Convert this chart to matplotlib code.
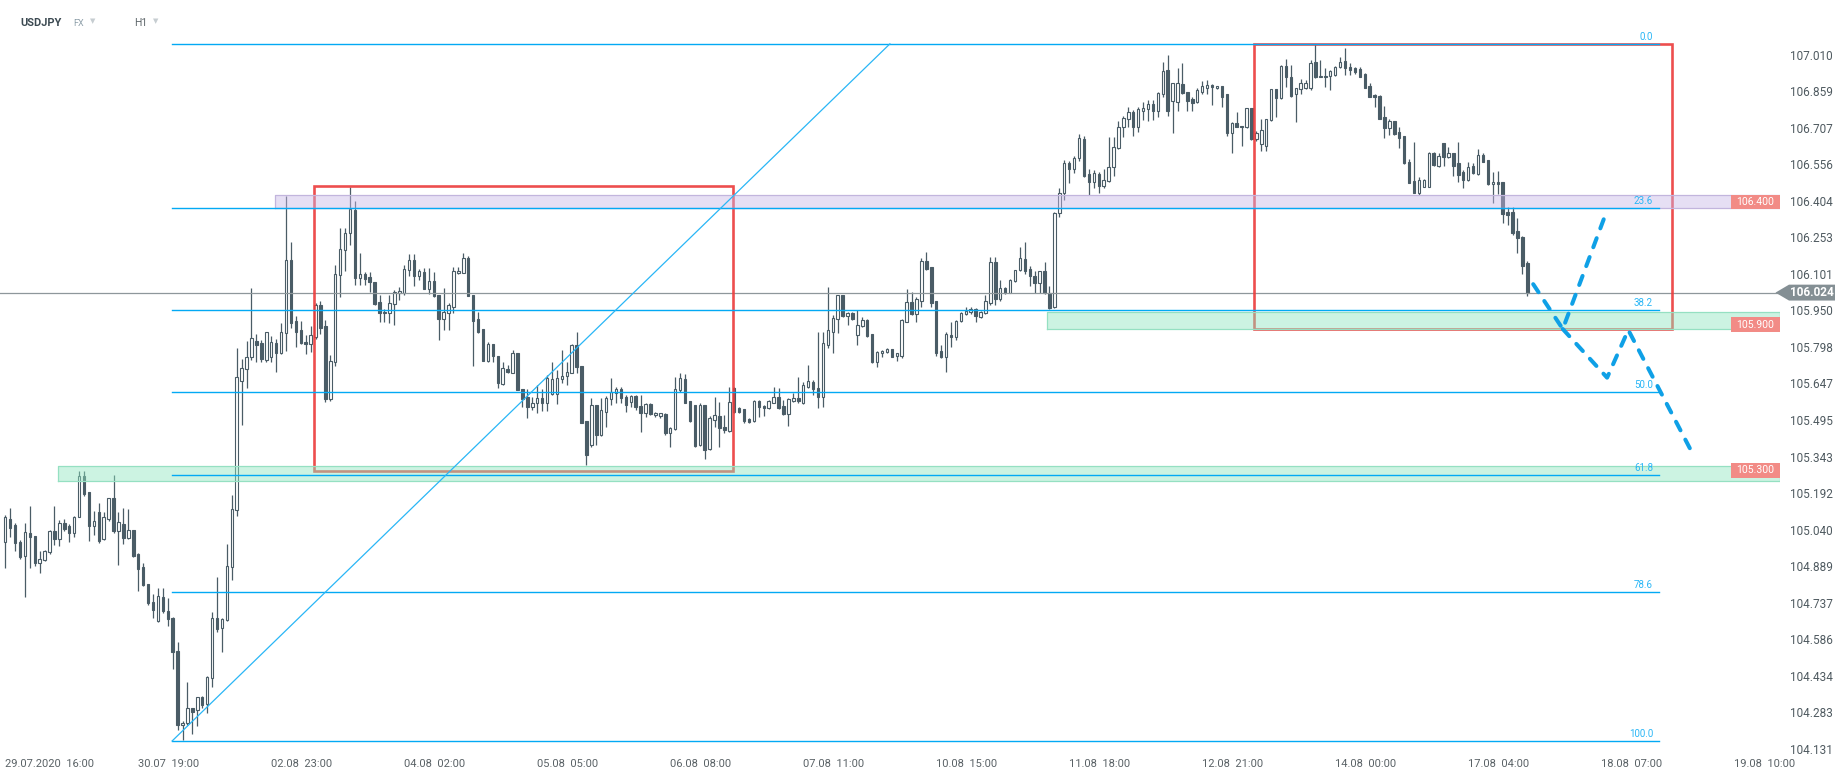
import matplotlib
matplotlib.use('Agg')
import matplotlib.pyplot as plt
import matplotlib.transforms as mtransforms
from matplotlib.patches import Rectangle, Polygon
import numpy as np

plt.rcParams['font.family'] = ['Roboto', 'DejaVu Sans']

# ---- USDJPY H1 candles ----
opens = [
    104.988, 105.085, 105.058, 104.988, 104.932, 105.026, 105.015, 104.901, 104.915, 104.947,
    105.036, 105.001, 105.067, 105.054, 105.026, 105.092, 105.265, 105.196, 105.054, 105.112,
    105.001, 105.084, 105.171, 105.036, 105.063, 105.005, 105.040, 104.940, 104.885, 104.816,
    104.742, 104.662, 104.763, 104.705, 104.673, 104.538, 104.228, 104.238, 104.300, 104.293,
    104.346, 104.316, 104.424, 104.673, 104.632, 104.666, 104.885, 105.123, 105.659, 105.706,
    105.756, 105.825, 105.814, 105.745, 105.758, 105.814, 105.775, 105.858, 106.160, 105.906,
    105.869, 105.821, 105.810, 105.841, 105.973, 105.886, 105.581, 105.735, 106.095, 106.201,
    106.270, 106.367, 106.086, 106.100, 106.088, 106.067, 105.984, 105.938, 105.938, 105.977,
    106.021, 106.024, 106.118, 106.160, 106.091, 106.109, 106.038, 106.073, 106.012, 105.914,
    105.938, 105.966, 106.104, 106.107, 106.167, 106.014, 105.915, 105.872, 105.742, 105.811,
    105.759, 105.644, 105.707, 105.692, 105.775, 105.624, 105.590, 105.551, 105.568, 105.586,
    105.565, 105.604, 105.604, 105.665, 105.676, 105.692, 105.807, 105.720, 105.492, 105.392,
    105.558, 105.434, 105.528, 105.582, 105.607, 105.623, 105.590, 105.572, 105.595, 105.555,
    105.523, 105.561, 105.516, 105.512, 105.521, 105.440, 105.457, 105.620, 105.664, 105.576,
    105.558, 105.392, 105.558, 105.374, 105.496, 105.512, 105.468, 105.451, 105.627, 105.544,
    105.540, 105.500, 105.493, 105.574, 105.554, 105.544, 105.567, 105.590, 105.554, 105.521,
    105.576, 105.585, 105.565, 105.631, 105.655, 105.627, 105.590, 105.807, 105.862, 105.913,
    106.014, 105.927, 105.938, 105.848, 105.887, 105.910, 105.852, 105.738, 105.772, 105.776,
    105.789, 105.762, 105.762, 105.904, 105.984, 105.935, 105.991, 106.155, 106.129, 105.991,
    105.782, 105.758, 105.848, 105.841, 105.908, 105.935, 105.945, 105.955, 105.921, 105.938,
    105.982, 106.150, 105.996, 106.045, 106.024, 106.072, 106.118, 106.162, 106.121, 106.093,
    106.063, 106.115, 106.021, 105.963, 106.353, 106.436, 106.561, 106.536, 106.582, 106.661,
    106.516, 106.484, 106.516, 106.468, 106.487, 106.544, 106.625, 106.710, 106.743, 106.772,
    106.712, 106.779, 106.784, 106.805, 106.779, 106.848, 106.948, 106.819, 106.816, 106.890,
    106.858, 106.827, 106.813, 106.858, 106.874, 106.884, 106.872, 106.881, 106.848, 106.688,
    106.726, 106.717, 106.710, 106.789, 106.660, 106.639, 106.632, 106.740, 106.867, 106.830,
    106.964, 106.920, 106.848, 106.867, 106.872, 106.872, 106.979, 106.917, 106.924, 106.924,
    106.927, 106.959, 106.985, 106.961, 106.955, 106.952, 106.931, 106.881, 106.844, 106.840,
    106.754, 106.708, 106.736, 106.689, 106.674, 106.567, 106.487, 106.436, 106.464, 106.464,
    106.605, 106.551, 106.643, 106.585, 106.602, 106.560, 106.526, 106.491, 106.549, 106.516,
    106.595, 106.575, 106.473, 106.482, 106.482, 106.357, 106.357, 106.280, 106.256, 106.146,
]
highs = [
    105.102, 105.130, 105.070, 104.998, 105.070, 105.139, 105.015, 104.950, 104.957, 105.040,
    105.139, 105.081, 105.085, 105.063, 105.098, 105.282, 105.282, 105.196, 105.116, 105.150,
    105.112, 105.171, 105.268, 105.112, 105.130, 105.127, 105.040, 104.943, 104.901, 104.816,
    104.774, 104.798, 104.798, 104.756, 104.680, 104.574, 104.245, 104.408, 104.300, 104.346,
    104.352, 104.434, 104.698, 104.846, 104.673, 104.982, 105.185, 105.793, 105.747, 105.823,
    106.042, 105.851, 105.828, 105.862, 105.844, 105.832, 105.897, 106.425, 106.236, 105.925,
    105.906, 105.848, 105.887, 105.980, 105.991, 105.911, 105.766, 106.139, 106.291, 106.291,
    106.464, 106.402, 106.187, 106.111, 106.111, 106.070, 106.014, 105.955, 106.014, 106.035,
    106.049, 106.139, 106.183, 106.183, 106.122, 106.128, 106.128, 106.109, 106.012, 106.042,
    105.980, 106.132, 106.132, 106.190, 106.176, 106.014, 105.943, 105.872, 105.821, 105.811,
    105.759, 105.738, 105.724, 105.786, 105.775, 105.624, 105.624, 105.590, 105.641, 105.623,
    105.683, 105.738, 105.703, 105.786, 105.738, 105.811, 105.862, 105.720, 105.492, 105.586,
    105.558, 105.586, 105.593, 105.669, 105.634, 105.634, 105.599, 105.599, 105.599, 105.599,
    105.565, 105.565, 105.530, 105.526, 105.523, 105.468, 105.675, 105.689, 105.685, 105.576,
    105.558, 105.565, 105.558, 105.512, 105.592, 105.572, 105.516, 105.634, 105.634, 105.551,
    105.540, 105.502, 105.579, 105.579, 105.558, 105.579, 105.631, 105.627, 105.579, 105.585,
    105.609, 105.675, 105.655, 105.724, 105.662, 105.862, 105.862, 106.046, 105.931, 106.014,
    106.014, 105.945, 105.945, 105.952, 105.924, 105.913, 105.852, 105.783, 105.786, 105.793,
    105.791, 105.775, 105.913, 106.038, 106.028, 106.004, 106.166, 106.191, 106.129, 105.991,
    105.807, 105.862, 105.904, 105.910, 105.945, 105.963, 105.963, 105.959, 105.949, 106.014,
    106.173, 106.173, 106.076, 106.049, 106.080, 106.118, 106.215, 106.233, 106.136, 106.115,
    106.115, 106.152, 106.051, 106.360, 106.457, 106.575, 106.571, 106.589, 106.683, 106.674,
    106.537, 106.533, 106.526, 106.537, 106.668, 106.671, 106.736, 106.758, 106.793, 106.782,
    106.793, 106.816, 106.823, 106.823, 106.858, 106.982, 107.010, 106.892, 106.957, 106.975,
    106.858, 106.834, 106.872, 106.903, 106.906, 106.888, 106.883, 106.881, 106.848, 106.733,
    106.772, 106.717, 106.789, 106.789, 106.695, 106.744, 106.744, 106.869, 106.869, 106.968,
    106.992, 106.968, 106.872, 106.910, 106.906, 106.989, 107.054, 106.989, 106.955, 106.948,
    106.966, 107.003, 107.037, 106.975, 106.961, 106.959, 106.934, 106.895, 106.848, 106.844,
    106.798, 106.743, 106.736, 106.710, 106.674, 106.577, 106.649, 106.502, 106.494, 106.609,
    106.609, 106.605, 106.646, 106.630, 106.605, 106.650, 106.533, 106.567, 106.560, 106.620,
    106.602, 106.575, 106.526, 106.529, 106.482, 106.381, 106.381, 106.332, 106.259, 106.155,
]
lows = [
    104.881, 105.012, 104.950, 104.918, 104.760, 104.881, 104.888, 104.860, 104.912, 104.939,
    104.975, 104.971, 105.033, 104.991, 105.009, 105.092, 105.182, 104.995, 105.019, 104.984,
    104.998, 105.078, 105.026, 104.892, 104.982, 105.001, 104.929, 104.788, 104.807, 104.729,
    104.673, 104.659, 104.694, 104.639, 104.462, 104.210, 104.169, 104.231, 104.192, 104.224,
    104.300, 104.279, 104.387, 104.614, 104.532, 104.663, 104.830, 105.099, 105.475, 105.630,
    105.745, 105.738, 105.735, 105.738, 105.735, 105.696, 105.770, 105.782, 105.876, 105.800,
    105.810, 105.768, 105.779, 105.830, 105.851, 105.572, 105.576, 105.721, 106.005, 106.115,
    106.222, 106.056, 106.056, 106.056, 106.028, 105.973, 105.901, 105.901, 105.897, 105.890,
    105.994, 106.014, 106.093, 106.052, 106.077, 106.038, 106.019, 106.005, 105.828, 105.869,
    105.869, 105.941, 106.102, 106.107, 106.008, 105.720, 105.858, 105.741, 105.738, 105.738,
    105.627, 105.641, 105.692, 105.690, 105.618, 105.551, 105.503, 105.535, 105.524, 105.531,
    105.531, 105.600, 105.562, 105.648, 105.641, 105.692, 105.692, 105.485, 105.310, 105.385,
    105.392, 105.427, 105.468, 105.558, 105.565, 105.565, 105.530, 105.551, 105.537, 105.447,
    105.509, 105.516, 105.509, 105.502, 105.433, 105.382, 105.454, 105.613, 105.565, 105.489,
    105.385, 105.388, 105.332, 105.371, 105.468, 105.385, 105.443, 105.447, 105.523, 105.526,
    105.485, 105.482, 105.489, 105.509, 105.512, 105.540, 105.565, 105.540, 105.516, 105.471,
    105.572, 105.565, 105.562, 105.627, 105.599, 105.544, 105.551, 105.793, 105.772, 105.855,
    105.924, 105.890, 105.910, 105.807, 105.883, 105.841, 105.733, 105.714, 105.758, 105.772,
    105.756, 105.742, 105.751, 105.901, 105.931, 105.904, 105.963, 106.118, 105.966, 105.761,
    105.751, 105.696, 105.797, 105.827, 105.901, 105.931, 105.935, 105.901, 105.917, 105.935,
    105.973, 105.973, 105.991, 106.018, 106.021, 106.069, 106.115, 106.101, 106.051, 106.021,
    106.021, 106.018, 105.955, 105.959, 106.337, 106.409, 106.478, 106.522, 106.572, 106.505,
    106.429, 106.457, 106.439, 106.457, 106.484, 106.509, 106.620, 106.671, 106.710, 106.675,
    106.689, 106.740, 106.737, 106.740, 106.751, 106.837, 106.757, 106.688, 106.779, 106.848,
    106.779, 106.779, 106.809, 106.847, 106.847, 106.802, 106.867, 106.793, 106.674, 106.605,
    106.710, 106.632, 106.706, 106.657, 106.655, 106.613, 106.613, 106.737, 106.754, 106.827,
    106.878, 106.837, 106.733, 106.848, 106.869, 106.865, 106.913, 106.917, 106.878, 106.865,
    106.923, 106.955, 106.927, 106.927, 106.930, 106.917, 106.872, 106.834, 106.795, 106.743,
    106.664, 106.678, 106.678, 106.623, 106.558, 106.477, 106.436, 106.429, 106.461, 106.461,
    106.551, 106.547, 106.551, 106.581, 106.508, 106.484, 106.457, 106.488, 106.516, 106.512,
    106.565, 106.470, 106.397, 106.433, 106.312, 106.305, 106.263, 106.187, 106.102, 106.008,
]
closes = [
    105.092, 105.047, 104.984, 104.926, 105.030, 105.009, 104.901, 104.918, 104.953, 105.036,
    105.001, 105.067, 105.044, 105.026, 105.092, 105.265, 105.189, 105.054, 105.077, 104.995,
    105.092, 105.171, 105.033, 105.071, 105.005, 105.037, 104.933, 104.877, 104.811, 104.738,
    104.708, 104.766, 104.704, 104.670, 104.532, 104.228, 104.240, 104.300, 104.286, 104.346,
    104.311, 104.428, 104.673, 104.629, 104.670, 104.888, 105.125, 105.672, 105.710, 105.758,
    105.835, 105.807, 105.749, 105.862, 105.817, 105.772, 105.862, 106.160, 105.899, 105.862,
    105.814, 105.810, 105.848, 105.973, 105.879, 105.581, 105.741, 106.100, 106.205, 106.270,
    106.370, 106.084, 106.100, 106.081, 106.067, 105.977, 105.938, 105.945, 105.980, 106.026,
    106.031, 106.122, 106.160, 106.091, 106.114, 106.038, 106.073, 106.008, 105.914, 105.943,
    105.973, 106.114, 106.114, 106.167, 106.008, 105.908, 105.862, 105.742, 105.810, 105.759,
    105.648, 105.710, 105.696, 105.775, 105.620, 105.582, 105.551, 105.565, 105.586, 105.565,
    105.669, 105.665, 105.669, 105.676, 105.694, 105.807, 105.717, 105.485, 105.350, 105.558,
    105.434, 105.535, 105.586, 105.613, 105.623, 105.586, 105.558, 105.595, 105.551, 105.523,
    105.561, 105.521, 105.526, 105.523, 105.443, 105.461, 105.623, 105.668, 105.567, 105.493,
    105.388, 105.558, 105.371, 105.502, 105.516, 105.461, 105.454, 105.572, 105.530, 105.530,
    105.493, 105.489, 105.574, 105.551, 105.544, 105.574, 105.590, 105.544, 105.521, 105.581,
    105.585, 105.574, 105.641, 105.657, 105.623, 105.592, 105.814, 105.869, 105.920, 106.014,
    105.927, 105.938, 105.913, 105.890, 105.910, 105.844, 105.738, 105.779, 105.782, 105.789,
    105.758, 105.772, 105.910, 105.984, 105.935, 105.996, 106.155, 106.121, 105.980, 105.775,
    105.758, 105.852, 105.838, 105.908, 105.938, 105.949, 105.955, 105.927, 105.945, 105.991,
    106.150, 105.996, 106.045, 106.024, 106.076, 106.118, 106.166, 106.114, 106.093, 106.065,
    106.115, 106.021, 105.959, 106.356, 106.436, 106.561, 106.536, 106.582, 106.665, 106.509,
    106.482, 106.519, 106.468, 106.491, 106.544, 106.630, 106.712, 106.747, 106.772, 106.710,
    106.786, 106.789, 106.805, 106.779, 106.851, 106.945, 106.779, 106.892, 106.895, 106.851,
    106.820, 106.809, 106.865, 106.881, 106.884, 106.876, 106.881, 106.837, 106.688, 106.726,
    106.712, 106.710, 106.789, 106.660, 106.688, 106.699, 106.743, 106.867, 106.830, 106.964,
    106.917, 106.841, 106.872, 106.892, 106.892, 106.978, 106.917, 106.924, 106.917, 106.943,
    106.961, 106.982, 106.955, 106.948, 106.941, 106.920, 106.874, 106.837, 106.834, 106.744,
    106.708, 106.736, 106.682, 106.667, 106.563, 106.480, 106.436, 106.491, 106.491, 106.605,
    106.553, 106.591, 106.588, 106.602, 106.551, 106.512, 106.491, 106.547, 106.519, 106.595,
    106.567, 106.473, 106.482, 106.473, 106.350, 106.344, 106.270, 106.250, 106.136, 106.024,
]

time_labels = ['29.07.2020  16:00', '30.07  19:00', '02.08  23:00', '04.08  02:00',
               '05.08  05:00', '06.08  08:00', '07.08  11:00', '10.08  15:00',
               '11.08  18:00', '12.08  21:00', '14.08  00:00', '17.08  04:00',
               '18.08  07:00', '19.08  10:00']
label_idx = list(range(0, 27 * len(time_labels), 27))   # one label every 27 bars

price_ticks = [107.010, 106.859, 106.707, 106.556, 106.404, 106.253, 106.101, 105.950,
               105.798, 105.647, 105.495, 105.343, 105.192, 105.040, 104.889, 104.737,
               104.586, 104.434, 104.283, 104.131]
last_price = 106.024

# fibonacci retracement (low -> high)
fib_low, fib_high = 104.164, 107.056
fib_x0, fib_x1 = 33.9, 335.7
fib_ratios = [0.0, 23.6, 38.2, 50.0, 61.8, 78.6, 100.0]
trend_x = [33.9, 179.6]
trend_y = [104.164, 107.056]

# support / resistance zones: (start bar, bottom, top, label)
zones = [(54.8, 106.374, 106.429, '106.400', '#c9b8e8'),
         (211.5, 105.872, 105.943, '105.900', '#8ee6c0'),
         (10.7, 105.243, 105.305, '105.300', '#8ee6c0')]
zone_label_y = [106.400, 105.891, 105.286]

# red boxes: (x0, x1, y0, y1)
boxes = [(62.7, 147.7, 105.284, 106.467),
         (253.5, 338.4, 105.873, 107.056)]

# projected path (dashed)
proj_a_x = [310.2, 316.2, 324.6]
proj_a_y = [106.059, 105.873, 106.333]
proj_b_x = [316.2, 325.2, 329.5, 342.0]
proj_b_y = [105.873, 105.671, 105.869, 105.378]

W, H = 1847, 780
fig = plt.figure(figsize=(W / 100, H / 100), dpi=100)
ax = fig.add_axes([0, (H - 752) / H, 1780 / W, 752 / H])
xmin, xmax = -1.056, 360.3
ax.set_xlim(xmin, xmax)
ax.set_ylim(104.118, 107.238)

o = np.array(opens); hi = np.array(highs); lo = np.array(lows); c = np.array(closes)
idx = np.arange(len(c))
up = c >= o
cc = '#4a5c66'
ax.vlines(idx, lo, hi, color=cc, lw=0.9, zorder=2)
ax.bar(idx[up], (c - o)[up], bottom=o[up], width=0.5, facecolor='white',
       edgecolor=cc, linewidth=0.8, zorder=3)
ax.bar(idx[~up], (o - c)[~up], bottom=c[~up], width=0.5, facecolor=cc,
       edgecolor=cc, linewidth=0.8, zorder=3)

# current price line
ax.axhline(last_price, color='#8e979b', lw=0.9, zorder=4)

# red rectangles
for x0, x1, y0, y1 in boxes:
    ax.add_patch(Rectangle((x0, y0), x1 - x0, y1 - y0, fill=False,
                           ec='#ec3b3b', lw=1.9, alpha=0.9, zorder=5))

# zones
for x0, y0, y1, lab, col in zones:
    ax.add_patch(Rectangle((x0, y0), xmax - x0, y1 - y0, fc=col, alpha=0.45,
                           ec='none', zorder=6))
    ec = '#c2b5dd' if col == '#c9b8e8' else '#95e0c2'
    ax.plot([x0, xmax, xmax, x0, x0], [y0, y0, y1, y1, y0], color=ec, lw=0.9, zorder=6)
for (x0, y0, y1, lab, col), yl in zip(zones, zone_label_y):
    bx0 = 350.3
    ax.add_patch(Rectangle((bx0, yl - 0.030), xmax - bx0, 0.060, fc='#f28b86',
                           ec='none', zorder=8, clip_on=False))
    ax.text((bx0 + xmax) / 2, yl, lab, color='white', fontsize=7.5,
            ha='center', va='center', zorder=9)

# fibonacci lines
for r in fib_ratios:
    lvl = fib_high - (fib_high - fib_low) * r / 100
    ax.plot([fib_x0, fib_x1], [lvl, lvl], color='#03a9f4', lw=1.0, zorder=7)
    ax.annotate('%.1f' % r, xy=(334.5, lvl), xytext=(0, 1.5), textcoords='offset points',
                ha='right', va='bottom', fontsize=7, color='#29b6f6', zorder=8)
ax.plot(trend_x, trend_y, color='#29b6f6', lw=0.9, zorder=7)

# projection
for px, py in [(proj_a_x, proj_a_y), (proj_b_x, proj_b_y)]:
    ax.plot(px, py, color='#0fa0e6', lw=2.9, ls=(0, (2.4, 2.6)),
            dash_capstyle='round', solid_joinstyle='round', zorder=9)

# last price marker on the axis
tr = mtransforms.blended_transform_factory(fig.transFigure, ax.transData)
hh = 0.033
pts = [(1775.5 / W, last_price), (1789 / W, last_price + hh), (1835 / W, last_price + hh),
       (1835 / W, last_price - hh), (1789 / W, last_price - hh)]
ax.add_patch(Polygon(pts, closed=True, fc='#848f94', ec='none', transform=tr,
                     clip_on=False, zorder=10))
ax.text(1812 / W, last_price, '%.3f' % last_price, transform=tr, color='white',
        fontsize=8.5, fontweight='bold', ha='center', va='center', zorder=11)

# axes
ax.yaxis.tick_right()
ax.set_yticks(price_ticks)
ax.set_yticklabels(['%.3f' % v for v in price_ticks])
ax.tick_params(axis='y', length=0, pad=7, labelsize=8.5, labelcolor='#4f5a60')
ax.set_xticks(label_idx)
ax.set_xticklabels(time_labels, ha='left')
ax.tick_params(axis='x', length=0, pad=5, labelsize=8, labelcolor='#5a6266')
for s in ax.spines.values():
    s.set_visible(False)

# header
fig.text(20 / W, 1 - 23 / H, 'USDJPY', fontsize=8, fontweight='bold', color='#3c4a52', va='center')
fig.text(73 / W, 1 - 23 / H, 'FX', fontsize=6.5, color='#8fa0aa', va='center')
fig.text(90 / W, 1 - 22 / H, '▼', fontsize=5, color='#c6cdd1', va='center')
fig.text(134 / W, 1 - 23 / H, 'H1', fontsize=7.5, color='#5f676b', va='center')
fig.text(153 / W, 1 - 22 / H, '▼', fontsize=5, color='#c6cdd1', va='center')

fig.savefig('out.png', dpi=100, facecolor='white')
